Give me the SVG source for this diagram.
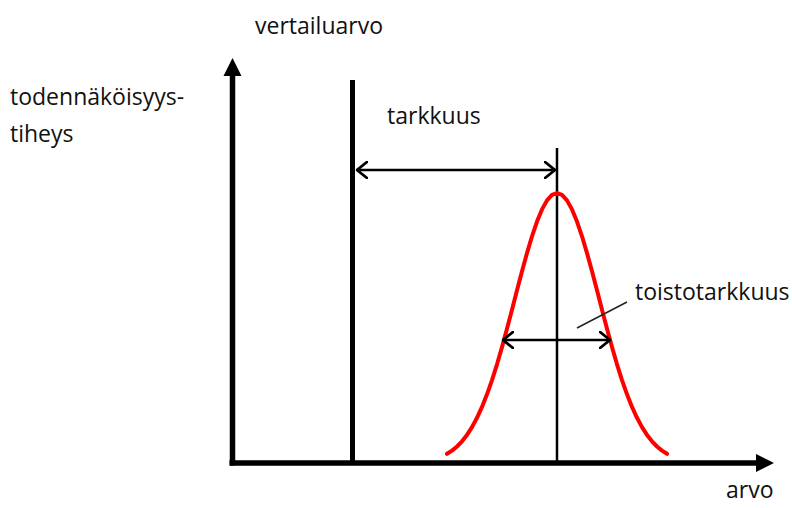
<svg xmlns="http://www.w3.org/2000/svg" width="792" height="508" viewBox="0 0 792 508">
<style>
.lbl{font-family:"Open Sans","Liberation Sans",sans-serif;font-size:23px;fill:#111}
.axis{stroke:#000;stroke-width:5.5;fill:none}
.thin{stroke:#000;stroke-width:2.5;fill:none}
.dim{stroke:#000;stroke-width:2.5;fill:none;stroke-linecap:round;stroke-linejoin:round}
</style>
<defs>
<marker id="open" viewBox="0 0 12 18" refX="11" refY="9" markerWidth="12" markerHeight="18" markerUnits="userSpaceOnUse" orient="auto-start-reverse">
<path d="M1,1 L11,9 L1,17" fill="none" stroke="#000" stroke-width="2.8" stroke-linecap="round" stroke-linejoin="round"/>
</marker>
</defs>
<rect width="792" height="508" fill="#fff"/>
<g id="axes">
<line class="axis" x1="232.5" y1="465.5" x2="232.5" y2="74"/>
<polygon points="232.5,58 223.5,76 241.5,76" fill="#000"/>
<line class="axis" x1="229.5" y1="463" x2="757" y2="463"/>
<polygon points="774,463 756,454 756,472" fill="#000"/>
</g>
<g id="reference">
<line x1="352.5" y1="80" x2="352.5" y2="463" stroke="#000" stroke-width="5"/>
</g>
<g id="mean">
<line class="thin" x1="557" y1="148" x2="557" y2="463"/>
</g>
<g id="curve">
<polyline points="447,453.8 452,450.6 457,446.5 462,441.3 467,434.9 472,427.1 477,417.8 482,406.9 487,394.3 492,380.1 497,364.3 502,347.1 507,328.7 512,309.7 517,290.3 522,271.3 527,253.1 532,236.3 537,221.6 542,209.4 547,200.4 552,194.9 557,193 562,194.9 567,200.4 572,209.4 577,221.6 582,236.3 587,253.1 592,271.3 597,290.3 602,309.7 607,328.7 612,347.1 617,364.3 622,380.1 627,394.3 632,406.9 637,417.8 642,427.1 647,434.9 652,441.3 657,446.5 662,450.6 667,453.8" fill="none" stroke="#f00" stroke-width="4" stroke-linecap="round" stroke-linejoin="round"/>
</g>
<g id="connectors">
<line class="dim" x1="357" y1="170" x2="555" y2="170" marker-start="url(#open)" marker-end="url(#open)"/>
<line class="dim" x1="503" y1="340" x2="610" y2="340" marker-start="url(#open)" marker-end="url(#open)"/>
<line x1="577" y1="328" x2="627" y2="302" stroke="#222" stroke-width="1.5"/>
</g>
<g id="labels">
<text class="lbl" x="255" y="34">vertailuarvo</text>
<text class="lbl" x="10" y="105">todennäköisyys-</text>
<text class="lbl" x="10" y="142">tiheys</text>
<text class="lbl" x="387" y="124">tarkkuus</text>
<text class="lbl" x="635" y="300">toistotarkkuus</text>
<text class="lbl" x="726" y="498">arvo</text>
</g>
</svg>
